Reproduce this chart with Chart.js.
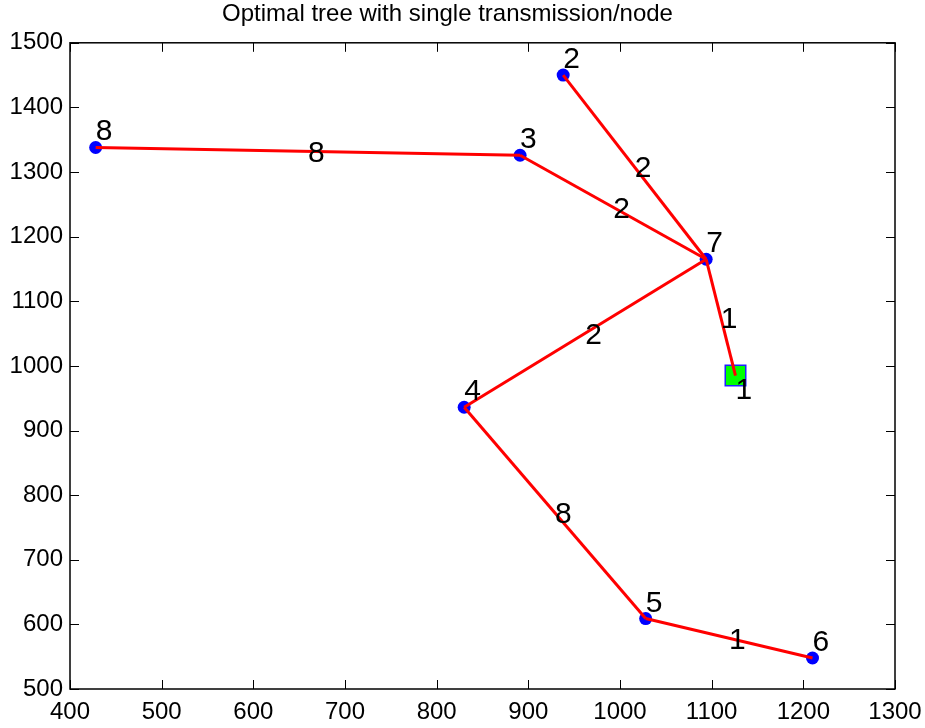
<!DOCTYPE html>
<html>
<head>
<meta charset="utf-8">
<script src="https://cdn.jsdelivr.net/npm/chart.js@4/dist/chart.umd.min.js"></script>
<style>
  html, body { margin: 0; padding: 0; background: #fff; }
  #wrap { width: 925px; height: 728px; }
</style>
</head>
<body>
<div id="wrap"><canvas id="myChart" width="925" height="728"></canvas></div>
<script>
// node positions (node 1 is the sink)
var nodeIds = [1, 2, 3, 4, 5, 6, 7, 8];
var nodeX = [1126, 938, 891, 830, 1028, 1210, 1094, 428];
var nodeY = [985, 1450, 1326, 936, 609, 548, 1165, 1338];

// tree edges and their labels
var edgeFrom = [2, 3, 8, 7, 4, 4, 5];
var edgeTo = [7, 7, 3, 1, 7, 5, 6];
var edgeLabel = [2, 2, 8, 1, 2, 8, 1];

var xTicks = [400, 500, 600, 700, 800, 900, 1000, 1100, 1200, 1300];
var yTicks = [500, 600, 700, 800, 900, 1000, 1100, 1200, 1300, 1400, 1500];
var title = 'Optimal tree with single transmission/node';

var FONT = "'Liberation Sans', Arial, Helvetica, sans-serif";

function pt(id) {
  var i = nodeIds.indexOf(id);
  return { x: nodeX[i], y: nodeY[i] };
}

var datasets = [];
for (var e = 0; e < edgeFrom.length; e++) {
  datasets.push({
    data: [pt(edgeFrom[e]), pt(edgeTo[e])],
    showLine: true,
    borderColor: '#ff0000',
    borderWidth: 3,
    pointRadius: 0,
    fill: false,
    order: 0
  });
}
var others = [];
for (var i = 1; i < nodeIds.length; i++) others.push({ x: nodeX[i], y: nodeY[i] });
datasets.push({
  data: others,
  showLine: false,
  pointRadius: 6.5,
  pointBackgroundColor: '#0000ff',
  pointBorderColor: '#0000ff',
  pointBorderWidth: 0,
  order: 1
});
datasets.push({
  data: [{ x: nodeX[0], y: nodeY[0] }],
  showLine: false,
  pointStyle: 'rect',
  pointRadius: 14.5,
  pointBackgroundColor: '#00ff00',
  pointBorderColor: '#2020ff',
  pointBorderWidth: 1.5,
  order: 2
});

var framePlugin = {
  id: 'frame',
  afterDraw: function (chart) {
    var ctx = chart.ctx, a = chart.chartArea;
    var xs = chart.scales.x, ys = chart.scales.y;
    ctx.save();
    ctx.strokeStyle = '#000';
    ctx.lineWidth = 1.5;
    ctx.strokeRect(a.left, a.top, a.right - a.left, a.bottom - a.top);
    ctx.lineWidth = 1;
    var tl = 9;
    ctx.beginPath();
    xTicks.forEach(function (v) {
      var px = Math.round(xs.getPixelForValue(v)) + 0.5;
      ctx.moveTo(px, a.bottom); ctx.lineTo(px, a.bottom - tl);
      ctx.moveTo(px, a.top); ctx.lineTo(px, a.top + tl);
    });
    yTicks.forEach(function (v) {
      var py = Math.round(ys.getPixelForValue(v)) + 0.5;
      ctx.moveTo(a.left, py); ctx.lineTo(a.left + tl, py);
      ctx.moveTo(a.right, py); ctx.lineTo(a.right - tl, py);
    });
    ctx.stroke();

    // labels
    ctx.fillStyle = '#000';
    ctx.font = '30px ' + FONT;
    ctx.textAlign = 'left';
    // edge labels at segment midpoints
    ctx.textBaseline = 'middle';
    for (var e = 0; e < edgeFrom.length; e++) {
      var p = pt(edgeFrom[e]), q = pt(edgeTo[e]);
      var mx = (xs.getPixelForValue(p.x) + xs.getPixelForValue(q.x)) / 2;
      var my = (ys.getPixelForValue(p.y) + ys.getPixelForValue(q.y)) / 2;
      ctx.fillText(String(edgeLabel[e]), mx, my + 2);
    }
    // node labels
    ctx.textBaseline = 'alphabetic';
    for (var i = 0; i < nodeIds.length; i++) {
      var nx = xs.getPixelForValue(nodeX[i]);
      var ny = ys.getPixelForValue(nodeY[i]);
      if (i === 0) ctx.fillText(String(nodeIds[i]), nx, ny + 23);
      else ctx.fillText(String(nodeIds[i]), nx, ny - 7);
    }
    ctx.restore();
  }
};

new Chart(document.getElementById('myChart').getContext('2d'), {
  type: 'scatter',
  data: { datasets: datasets },
  options: {
    responsive: false,
    animation: false,
    clip: false,
    layout: { padding: { left: 0, right: 30, top: 0, bottom: 0 } },
    plugins: {
      legend: { display: false },
      tooltip: { enabled: false },
      title: {
        display: true,
        text: title,
        color: '#000',
        font: { family: FONT, size: 24, weight: 'normal' },
        padding: { top: 0, bottom: 14 }
      }
    },
    scales: {
      x: {
        type: 'linear',
        min: 400, max: 1300,
        afterFit: function (s) { s.height = 39; s.paddingRight = 0; s.paddingLeft = 0; },
        grid: { display: false, drawTicks: false },
        border: { display: false },
        ticks: { stepSize: 100, color: '#000', padding: 9, maxRotation: 0,
                 font: { family: FONT, size: 24 },
                 callback: function (v) { return String(v); } }
      },
      y: {
        type: 'linear',
        min: 500, max: 1500,
        afterFit: function (s) { s.width = 70; },
        grid: { display: false, drawTicks: false },
        border: { display: false },
        ticks: { stepSize: 100, color: '#000', padding: 7,
                 font: { family: FONT, size: 24 },
                 callback: function (v) { return String(v); } }
      }
    }
  },
  plugins: [framePlugin]
});
</script>
</body>
</html>
